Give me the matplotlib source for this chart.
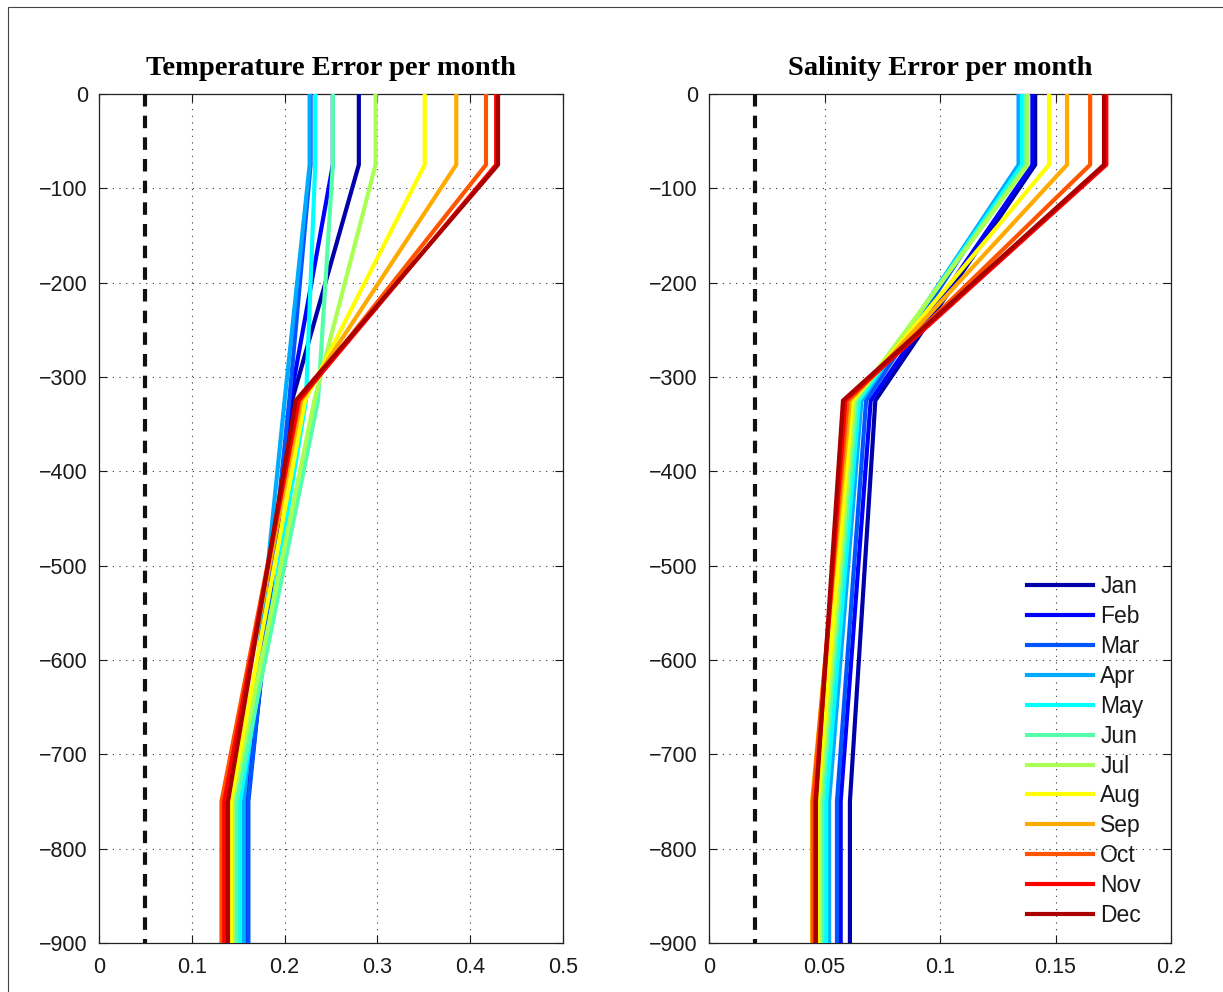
import matplotlib
matplotlib.use("Agg")
import matplotlib.pyplot as plt
from matplotlib.patches import Rectangle
import numpy as np

months = ["Jan", "Feb", "Mar", "Apr", "May", "Jun",
          "Jul", "Aug", "Sep", "Oct", "Nov", "Dec"]
depths = [0, -75, -325, -750, -900]

temp_err = {
    "Jan": [0.280, 0.280, 0.208, 0.160, 0.160],
    "Feb": [0.252, 0.252, 0.206, 0.160, 0.160],
    "Mar": [0.228, 0.228, 0.205, 0.161, 0.161],
    "Apr": [0.227, 0.227, 0.200, 0.156, 0.156],
    "May": [0.233, 0.233, 0.223, 0.152, 0.152],
    "Jun": [0.252, 0.252, 0.236, 0.148, 0.148],
    "Jul": [0.298, 0.298, 0.232, 0.144, 0.144],
    "Aug": [0.351, 0.351, 0.222, 0.142, 0.142],
    "Sep": [0.385, 0.385, 0.218, 0.135, 0.135],
    "Oct": [0.417, 0.417, 0.216, 0.132, 0.132],
    "Nov": [0.428, 0.428, 0.215, 0.135, 0.135],
    "Dec": [0.430, 0.430, 0.212, 0.139, 0.139],
}
sal_err = {
    "Jan": [0.1412, 0.1412, 0.072, 0.0610, 0.0610],
    "Feb": [0.1400, 0.1400, 0.070, 0.0570, 0.0570],
    "Mar": [0.1350, 0.1350, 0.068, 0.0554, 0.0554],
    "Apr": [0.1340, 0.1340, 0.066, 0.0520, 0.0520],
    "May": [0.1355, 0.1355, 0.065, 0.0507, 0.0507],
    "Jun": [0.1370, 0.1370, 0.064, 0.0490, 0.0490],
    "Jul": [0.1380, 0.1380, 0.063, 0.0480, 0.0480],
    "Aug": [0.1472, 0.1472, 0.062, 0.0470, 0.0470],
    "Sep": [0.1550, 0.1550, 0.061, 0.0446, 0.0446],
    "Oct": [0.1650, 0.1650, 0.060, 0.0450, 0.0450],
    "Nov": [0.1720, 0.1720, 0.059, 0.0460, 0.0460],
    "Dec": [0.1710, 0.1710, 0.058, 0.0463, 0.0463],
}
temp_target = 0.05
sal_target = 0.02

colors = [
    (0, 0, 0.6667), (0, 0, 1), (0, 0.3333, 1), (0, 0.6667, 1),
    (0, 1, 1), (0.3333, 1, 0.6667), (0.6667, 1, 0.3333), (1, 1, 0),
    (1, 0.6667, 0), (1, 0.3333, 0), (1, 0, 0), (0.6667, 0, 0),
]

plt.rcParams['font.family'] = ['Liberation Sans', 'DejaVu Sans']
fig = plt.figure(figsize=(12.23, 9.92), dpi=100)
fig.patches.append(Rectangle((8 / 1223, -0.01), 1.0, 1.01 - 7 / 992,
                             transform=fig.transFigure, fill=False,
                             edgecolor='#444444', lw=0.8))

ax1 = fig.add_axes([99 / 1223, 1 - 943 / 992, 464 / 1223, 849 / 992])
ax2 = fig.add_axes([709 / 1223, 1 - 943 / 992, 462 / 1223, 849 / 992])

def style(ax, xlim, xticks, xlabels, title, target):
    ax.plot([target, target], [depths[0], depths[-1]], color='#111111',
            lw=3, linestyle=(0, (3, 2.2)), zorder=3)
    ax.set_xlim(*xlim)
    ax.set_ylim(-900, 0)
    ax.set_xticks(xticks)
    ax.set_xticklabels(xlabels)
    yt = list(range(0, -1000, -100))
    ax.set_yticks(yt)
    ax.set_yticklabels([str(v).replace('-', '\u2212') for v in yt])
    ax.tick_params(direction='in', top=True, right=True, length=6,
                   width=0.8, labelsize=15.5, colors='#1a1a1a')
    ax.tick_params(axis='x', pad=10)
    ax.tick_params(axis='y', pad=8)
    ax.grid(True, linestyle=(0, (1, 5)), color='#333333', lw=0.8)
    for s in ax.spines.values():
        s.set_linewidth(0.9)
        s.set_color('#222222')
    ax.set_title(title, fontfamily='Liberation Serif', fontweight='bold',
                 fontsize=20.5, pad=14)

for ax, data in ((ax1, temp_err), (ax2, sal_err)):
    for m, c in zip(months, colors):
        ax.plot(data[m], depths, color=c, lw=3, label=m, zorder=4)

style(ax1, (0, 0.5), [0, 0.1, 0.2, 0.3, 0.4, 0.5],
      ['0', '0.1', '0.2', '0.3', '0.4', '0.5'],
      'Temperature Error per month', temp_target)
style(ax2, (0, 0.2), [0, 0.05, 0.1, 0.15, 0.2],
      ['0', '0.05', '0.1', '0.15', '0.2'],
      'Salinity Error per month', sal_target)

leg = ax2.legend(loc='lower right', frameon=False, fontsize=16.5,
                 handlelength=2.9, handletextpad=0.3, labelspacing=0.3,
                 borderaxespad=0.3, bbox_to_anchor=(0.975, 0.0))
for t in leg.get_texts():
    t.set_color('#1a1a1a')

fig.savefig('out.png', dpi=100, facecolor='white')
